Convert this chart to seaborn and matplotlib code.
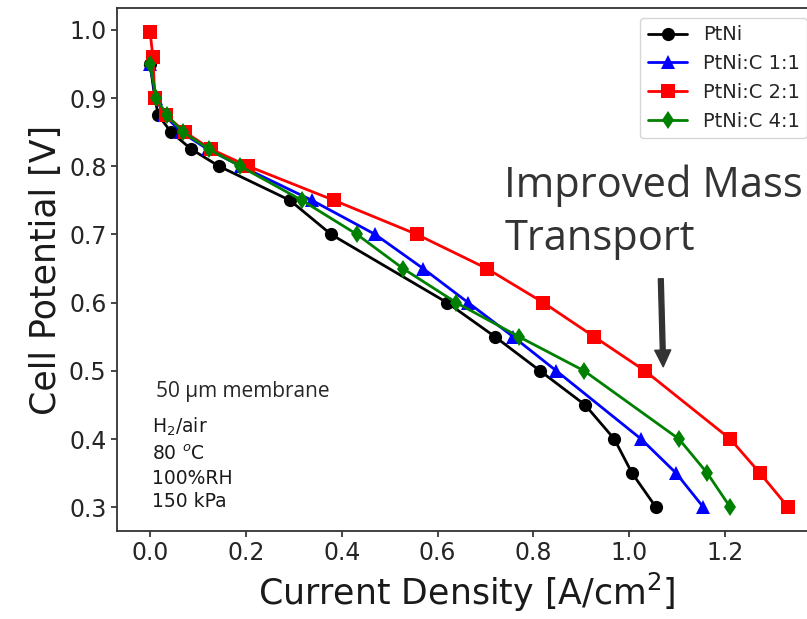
import matplotlib
matplotlib.use("Agg")
import matplotlib.pyplot as plt
import seaborn as sns
import pandas as pd

# polarization curves
ptni_j = [0.0, 0.01, 0.017, 0.044, 0.086, 0.144, 0.292, 0.378, 0.62, 0.72, 0.814, 0.908, 0.969, 1.006, 1.056]
ptni_v = [0.95, 0.90, 0.875, 0.85, 0.825, 0.80, 0.75, 0.70, 0.60, 0.55, 0.50, 0.45, 0.40, 0.35, 0.30]

c11_j = [0.0, 0.012, 0.03, 0.065, 0.12, 0.19, 0.338, 0.47, 0.57, 0.664, 0.758, 0.848, 1.025, 1.098, 1.155]
c11_v = [0.95, 0.90, 0.875, 0.85, 0.825, 0.80, 0.75, 0.70, 0.65, 0.60, 0.55, 0.50, 0.40, 0.35, 0.30]

c21_j = [0.0, 0.006, 0.01, 0.033, 0.073, 0.127, 0.205, 0.384, 0.557, 0.703, 0.821, 0.927, 1.033, 1.211, 1.273, 1.332]
c21_v = [0.997, 0.96, 0.90, 0.875, 0.85, 0.825, 0.80, 0.75, 0.70, 0.65, 0.60, 0.55, 0.50, 0.40, 0.35, 0.30]

c41_j = [0.0, 0.013, 0.035, 0.069, 0.123, 0.188, 0.317, 0.432, 0.528, 0.639, 0.77, 0.906, 1.104, 1.163, 1.211]
c41_v = [0.95, 0.90, 0.875, 0.85, 0.825, 0.80, 0.75, 0.70, 0.65, 0.60, 0.55, 0.50, 0.40, 0.35, 0.30]

labels = ['PtNi', 'PtNi:C 1:1', 'PtNi:C 2:1', 'PtNi:C 4:1']
series = [(ptni_j, ptni_v), (c11_j, c11_v), (c21_j, c21_v), (c41_j, c41_v)]

frames = []
for lab, (j, v) in zip(labels, series):
    frames.append(pd.DataFrame({'j': j, 'V': v, 'Catalyst': lab}))
df = pd.concat(frames, ignore_index=True)

palette = {'PtNi': 'k', 'PtNi:C 1:1': 'b', 'PtNi:C 2:1': 'r', 'PtNi:C 4:1': 'g'}
markers = {'PtNi': 'o', 'PtNi:C 1:1': '^', 'PtNi:C 2:1': 's', 'PtNi:C 4:1': 'd'}

sns.set_style('ticks')
plt.rcParams['font.family'] = ['DejaVu Sans']

fig = plt.figure(figsize=(8.07, 6.19), dpi=100)
ax = fig.add_axes([117 / 807, 1 - 531 / 619, 700 / 807, 523 / 619])

sns.lineplot(data=df, x='j', y='V', hue='Catalyst', style='Catalyst',
             palette=palette, markers=markers, dashes=False,
             estimator=None, sort=False, linewidth=2, markersize=9.5,
             markeredgewidth=0, ax=ax)

ax.set_xlim(-0.069, 1.392)
ax.set_ylim(0.2652, 1.032)
ax.set_xticks([0.0, 0.2, 0.4, 0.6, 0.8, 1.0, 1.2])
ax.set_yticks([0.3, 0.4, 0.5, 0.6, 0.7, 0.8, 0.9, 1.0])
ax.tick_params(labelsize=17, colors='#262626', length=4, width=1.2)
ax.set_xlabel('Current Density [A/cm$^2$]', fontsize=25, color='#1a1a1a')
ax.set_ylabel('Cell Potential [V]', fontsize=25, color='#1a1a1a')
for s in ax.spines.values():
    s.set_color('#333333')
    s.set_linewidth(1.3)

sns.move_legend(ax, 'upper right', title=None, fontsize=14, frameon=True)

# conditions
ax.text(0.0125, 0.469, '50 \u00b5m membrane', fontsize=15, family=['Open Sans', 'DejaVu Sans'],
        color='#262626', va='center', ha='left')
cond = ['H$_2$/air', '80 $^o$C', '100%RH', '150 kPa']
cond_y = [0.418, 0.377, 0.342, 0.309]
for t, yy in zip(cond, cond_y):
    ax.text(0.004, yy, t, fontsize=13.5, color='#1a1a1a', va='center', ha='left')

ax.text(0.739, 0.755, 'Improved Mass', fontsize=30, family=['Open Sans', 'DejaVu Sans'],
        color='#333333', va='baseline', ha='left')
ax.text(0.739, 0.677, 'Transport', fontsize=30, family=['Open Sans', 'DejaVu Sans'],
        color='#333333', va='baseline', ha='left')
ax.annotate('', xy=(1.071, 0.506), xytext=(1.066, 0.635),
            arrowprops=dict(width=3.5, headwidth=11.5, headlength=12, color='#333333', shrink=0))

fig.savefig('out.png', dpi=100)
